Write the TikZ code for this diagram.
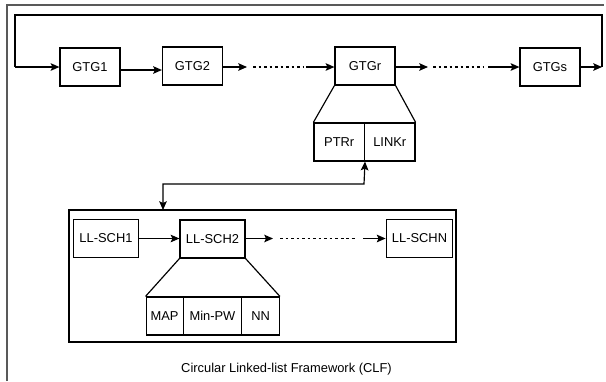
\documentclass[tikz,border=0pt]{standalone}
\usepackage{fontspec}
\setmainfont{Liberation Sans}
\usetikzlibrary{arrows.meta}

\tikzset{
  blk/.style={draw, line width=1pt, inner sep=0pt, minimum height=1.14cm},
  conn/.style={line width=1pt, -{Stealth[length=7.5pt, width=6.5pt, inset=1.5pt]}},
  dconn/.style={line width=1pt, {Stealth[length=7.5pt, width=6.5pt, inset=1.5pt]}-{Stealth[length=7.5pt, width=6.5pt, inset=1.5pt]}},
  dots/.style={line width=1pt, dash pattern=on 2.5pt off 2.2pt},
  link/.style={line width=1pt}
}

\begin{document}
\begin{tikzpicture}[x=0.03cm, y=-0.03cm, font=\fontsize{11}{13}\selectfont]
    \useasboundingbox (0,0) rectangle (606,381);

    % Outer frame (top and left only)
    \coordinate (FL) at (7,381);
    \coordinate (FC) at (7,5);
    \coordinate (FR) at (604,5);
    \draw[black!65, line width=1pt] (FL) -- (FC) -- (FR);

    % Gateway ring
    \node[blk, minimum width=1.8cm] (GTG1) at (90,67) {GTG1};
    \node[blk, minimum width=1.8cm] (GTG2) at (192.5,66) {GTG2};
    \node[blk, minimum width=1.8cm] (GTGr) at (365,66) {GTGr};
    \node[blk, minimum width=1.8cm] (GTGs) at (550,67) {GTGs};

    \coordinate (R1) at (602,67);
    \coordinate (R2) at (602,15);
    \coordinate (L1) at (15,15);
    \coordinate (L2) at (15,67);
    \draw[conn] (GTGs.east) -- (R1);
    \draw[link] (R1) -- (R2) -- (L1) -- (L2);
    \draw[conn] (L2) -- (GTG1.west);
    \draw[conn] (GTG1.east |- 0,70) -- (GTG2.west |- 0,70);

    % Gaps between gateways
    \coordinate (A1) at (247,67);
    \coordinate (A2) at (253,67);
    \coordinate (A3) at (303,67);
    \coordinate (A4) at (306,67);
    \draw[conn] (GTG2.east |- A1) -- (A1);
    \draw[dots] (A2) -- (A3);
    \draw[conn] (A4) -- (GTGr.west |- A4);
    \coordinate (B1) at (428,67);
    \coordinate (B2) at (433,67);
    \coordinate (B3) at (483,67);
    \coordinate (B4) at (488,67);
    \draw[conn] (GTGr.east |- B1) -- (B1);
    \draw[dots] (B2) -- (B3);
    \draw[conn] (B4) -- (GTGs.west);

    % GTGr fields
    \node[blk, minimum width=1.515cm] (PTRr) at (339.2,142) {PTRr};
    \node[blk, minimum width=1.515cm] (LINKr) at (389.8,142) {LINKr};
    \draw[link] (GTGr.south west) -- (PTRr.north west);
    \draw[link] (GTGr.south east) -- (LINKr.north east);

    % CLF frame
    \node[draw, line width=1pt, minimum width=11.61cm, minimum height=3.96cm] (CLF) at (262.5,276) {};
    \coordinate (T1) at (364,184);
    \coordinate (T2) at (163,184);
    \coordinate (T3) at (163,210);
    \draw[dconn] (PTRr.south east) -- (T1) -- (T2) -- (T3);

    \node[blk, minimum width=1.95cm] (SCH1) at (106,238.5) {LL-SCH1};
    \node[blk, minimum width=1.95cm] (SCH2) at (212.5,239) {LL-SCH2};
    \node[blk, minimum width=2.0cm] (SCHN) at (419.5,238.5) {LL-SCHN};
    \draw[conn] (SCH1.east) -- (SCH2.west |- SCH1.east);
    \coordinate (C1) at (273,238.5);
    \coordinate (C2) at (280,238.5);
    \coordinate (C3) at (356,238.5);
    \coordinate (C4) at (363,238.5);
    \draw[conn] (SCH2.east |- C1) -- (C1);
    \draw[dots] (C2) -- (C3);
    \draw[conn] (C4) -- (SCHN.west);

    % LL-SCH2 fields
    \node[blk, minimum width=1.11cm] (MAP) at (164.6,316) {MAP};
    \node[blk, minimum width=1.755cm] (MinPW) at (212.5,316) {Min-PW};
    \node[blk, minimum width=1.125cm] (NN) at (260.6,316) {NN};
    \draw[link] (SCH2.south west) -- (MAP.north west);
    \draw[link] (SCH2.south east) -- (NN.north east);

    \node (cap) at (286.5,369) {Circular Linked-list Framework (CLF)};
\end{tikzpicture}
\end{document}
